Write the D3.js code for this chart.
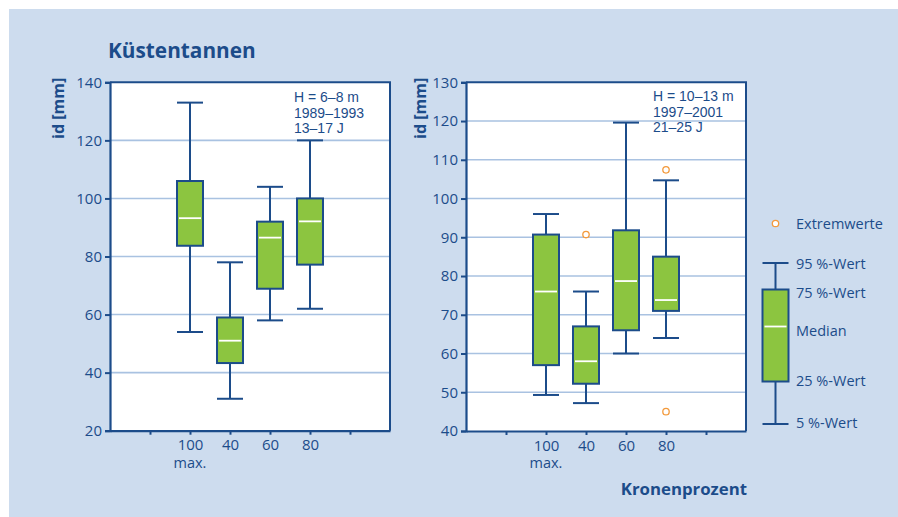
<!DOCTYPE html>
<html>
<head>
<meta charset="utf-8">
<script src="https://cdn.jsdelivr.net/npm/d3@7"></script>
<style>
  html, body { margin: 0; padding: 0; background: #fff; }
  svg { display: block; font-family: "Open Sans", "Noto Sans", sans-serif; }
</style>
</head>
<body>
<svg id="chart" width="898" height="517"></svg>
<script>
// Kronenprozent classes (x axis)
const categories = ["100", "40", "60", "80"];

// Left panel: H = 6–8 m, 1989–1993, 13–17 J
const leftP5  = [54, 31, 58, 62];
const leftQ1  = [83.7, 43.3, 68.9, 77.2];
const leftMed = [93.2, 51, 86.5, 92.1];
const leftQ3  = [106, 59, 92, 100];
const leftP95 = [133, 78, 104, 120];
const leftTicks = [20, 40, 60, 80, 100, 120, 140];

// Right panel: H = 10–13 m, 1997–2001, 21–25 J
const rightP5  = [49.3, 47.2, 60, 64];
const rightQ1  = [57, 52.2, 66, 71];
const rightMed = [76, 58, 78.7, 73.8];
const rightQ3  = [90.7, 67, 91.8, 85];
const rightP95 = [96, 76, 119.6, 104.7];
const rightOutCat = ["40", "80", "80"];
const rightOutVal = [90.7, 107.4, 45];
const rightTicks = [40, 50, 60, 70, 80, 90, 100, 110, 120, 130];

const NAVY = "#1c4c8a";
const GRID = "#a9c2e1";
const GREEN = "#8cc540";
const ORANGE = "#f39a3c";
const BG = "#cddcee";

const svg = d3.select("#chart");
svg.append("rect").attr("x", 9).attr("y", 9).attr("width", 889).attr("height", 508).attr("fill", BG);

svg.append("text").attr("x", 108).attr("y", 58)
  .attr("fill", NAVY).attr("font-weight", 700).attr("font-size", 20.8)
  .text("Küstentannen");

function panel(opts) {
  const { left, right, top, bottom, yDomain, ticks, p5, q1, med, q3, p95, note, outCat, outVal, labelX } = opts;
  const g = svg.append("g");
  const slots = ["s0", "s1", ...categories, "s6", "s7"];
  const x = d3.scalePoint().domain(slots).range([left, right]);
  const y = d3.scaleLinear().domain(yDomain).range([bottom, top]);

  g.append("rect").attr("x", left).attr("y", top)
    .attr("width", right - left).attr("height", bottom - top).attr("fill", "#fff");

  // grid
  g.append("g").selectAll("line").data(ticks.slice(1, -1)).join("line")
    .attr("x1", left).attr("x2", right)
    .attr("y1", d => y(d)).attr("y2", d => y(d))
    .attr("stroke", GRID).attr("stroke-width", 1.6);

  // frame top / right
  g.append("path")
    .attr("d", `M${left},${top}H${right}V${bottom}`)
    .attr("fill", "none").attr("stroke", NAVY).attr("stroke-width", 2);

  // y axis
  const ya = g.append("g").attr("transform", `translate(${left},0)`)
    .call(d3.axisLeft(y).tickValues(ticks).tickSize(5).tickPadding(3));
  ya.select(".domain").attr("stroke", NAVY).attr("stroke-width", 2.2);
  ya.selectAll(".tick line").attr("stroke", NAVY).attr("stroke-width", 2);
  ya.selectAll(".tick text").attr("fill", NAVY).attr("font-size", 15)
    .attr("font-family", "'Open Sans', sans-serif");

  // x axis
  const xa = g.append("g").attr("transform", `translate(0,${bottom})`)
    .call(d3.axisBottom(x).tickValues(slots.slice(1, -1))
      .tickFormat(d => categories.includes(d) ? d : "").tickSize(4).tickSizeOuter(0).tickPadding(5));
  xa.select(".domain").attr("stroke", NAVY).attr("stroke-width", 2.2);
  xa.selectAll(".tick line").attr("stroke", NAVY).attr("stroke-width", 2);
  xa.selectAll(".tick text").attr("fill", NAVY).attr("font-size", 15)
    .attr("font-family", "'Open Sans', sans-serif");
  g.append("text").attr("x", x("100")).attr("y", bottom + 37)
    .attr("text-anchor", "middle").attr("fill", NAVY).attr("font-size", 14.5)
    .text("max.");

  // y label
  g.append("text")
    .attr("transform", `translate(${labelX},${top + 26}) rotate(-90)`)
    .attr("text-anchor", "middle").attr("fill", NAVY)
    .attr("font-weight", 700).attr("font-size", 16)
    .text("id [mm]");

  // boxes
  const hw = 13;
  const boxes = g.append("g").selectAll("g").data(categories).join("g");
  boxes.append("line")
    .attr("x1", d => x(d)).attr("x2", d => x(d))
    .attr("y1", (d, i) => y(p95[i])).attr("y2", (d, i) => y(p5[i]))
    .attr("stroke", NAVY).attr("stroke-width", 2);
  boxes.append("line")
    .attr("x1", d => x(d) - hw).attr("x2", d => x(d) + hw)
    .attr("y1", (d, i) => y(p95[i])).attr("y2", (d, i) => y(p95[i]))
    .attr("stroke", NAVY).attr("stroke-width", 2);
  boxes.append("line")
    .attr("x1", d => x(d) - hw).attr("x2", d => x(d) + hw)
    .attr("y1", (d, i) => y(p5[i])).attr("y2", (d, i) => y(p5[i]))
    .attr("stroke", NAVY).attr("stroke-width", 2);
  boxes.append("rect")
    .attr("x", d => x(d) - hw).attr("width", hw * 2)
    .attr("y", (d, i) => y(q3[i])).attr("height", (d, i) => y(q1[i]) - y(q3[i]))
    .attr("fill", GREEN).attr("stroke", NAVY).attr("stroke-width", 2);
  boxes.append("line")
    .attr("x1", d => x(d) - hw + 2).attr("x2", d => x(d) + hw - 2)
    .attr("y1", (d, i) => y(med[i])).attr("y2", (d, i) => y(med[i]))
    .attr("stroke", "#fff").attr("stroke-width", 1.8);

  if (outCat) {
    g.append("g").selectAll("circle").data(outCat).join("circle")
      .attr("cx", d => x(d)).attr("cy", (d, i) => y(outVal[i])).attr("r", 3.2)
      .attr("fill", "#fff").attr("stroke", ORANGE).attr("stroke-width", 1.3);
  }

  // annotation (three stacked lines, compact face so lines sit tight)
  note.lines.forEach((s, i) => {
    g.append("text").attr("fill", NAVY).attr("font-size", 14)
      .attr("font-family", "'Liberation Sans', Arial, sans-serif")
      .attr("x", note.x).attr("y", note.y + i * 15.7).text(s);
  });
}

panel({
  left: 110, right: 390, top: 82.3, bottom: 430.7,
  yDomain: [20, 140], ticks: leftTicks,
  p5: leftP5, q1: leftQ1, med: leftMed, q3: leftQ3, p95: leftP95,
  note: { x: 294, y: 102, lines: ["H = 6–8 m", "1989–1993", "13–17 J"] },
  labelX: 64
});

panel({
  left: 466, right: 746, top: 82.3, bottom: 431,
  yDomain: [40, 130], ticks: rightTicks,
  p5: rightP5, q1: rightQ1, med: rightMed, q3: rightQ3, p95: rightP95,
  outCat: rightOutCat, outVal: rightOutVal,
  note: { x: 653, y: 101, lines: ["H = 10–13 m", "1997–2001", "21–25 J"] },
  labelX: 426
});

svg.append("text").attr("x", 747).attr("y", 495).attr("text-anchor", "end")
  .attr("fill", NAVY).attr("font-weight", 700).attr("font-size", 16.8)
  .text("Kronenprozent");

// legend
const lg = svg.append("g");
const lx = 775.5;
lg.append("circle").attr("cx", lx).attr("cy", 223.5).attr("r", 3.2)
  .attr("fill", "#fff").attr("stroke", ORANGE).attr("stroke-width", 1.3);
lg.append("line").attr("x1", lx).attr("x2", lx).attr("y1", 263).attr("y2", 424)
  .attr("stroke", NAVY).attr("stroke-width", 2);
[263, 424].forEach(yy => lg.append("line").attr("x1", lx - 13).attr("x2", lx + 13)
  .attr("y1", yy).attr("y2", yy).attr("stroke", NAVY).attr("stroke-width", 2));
lg.append("rect").attr("x", lx - 13).attr("y", 289.5).attr("width", 26).attr("height", 92)
  .attr("fill", GREEN).attr("stroke", NAVY).attr("stroke-width", 2);
lg.append("line").attr("x1", lx - 11).attr("x2", lx + 11).attr("y1", 326.5).attr("y2", 326.5)
  .attr("stroke", "#fff").attr("stroke-width", 1.8);
const legendText = [["Extremwerte", 228.5], ["95 %-Wert", 268.5], ["75 %-Wert", 298], ["Median", 336], ["25 %-Wert", 385.5], ["5 %-Wert", 428]];
lg.selectAll("text.lt").data(legendText).join("text").attr("class", "lt")
  .attr("x", 796).attr("y", d => d[1]).attr("fill", NAVY).attr("font-size", 14.5)
  .text(d => d[0]);
</script>
</body>
</html>
